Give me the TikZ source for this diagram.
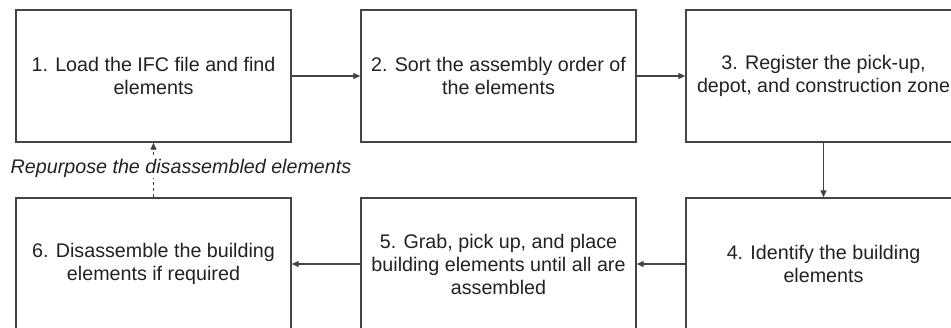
\documentclass[tikz,border=0pt]{standalone}
\usepackage{fontspec}
\setmainfont{Liberation Sans}
\usetikzlibrary{arrows.meta}
\definecolor{linec}{HTML}{444444}
\definecolor{textc}{HTML}{222222}
\begin{document}
\begin{tikzpicture}[x=1bp,y=-1bp,
  stepbox/.style={draw=linec,line width=1.4bp,minimum width=275bp,minimum height=132bp,
    align=center,text=textc,font=\fontsize{19.7bp}{23bp}\selectfont,inner sep=0pt},
  conn/.style={draw=linec,line width=1.1bp,-{Triangle[length=7bp,width=6bp]}}]
\useasboundingbox (0,0) rectangle (951,327);
\clip (0,0) rectangle (951,327);
\fill[white] (0,0) rectangle (951,327);
\node[stepbox] (b1) at (153.5,76) {1. Load the IFC file and find\\elements};
\node[stepbox] (b2) at (498.5,76) {2. Sort the assembly order of\\the elements};
\node[stepbox] (b3) at (823.5,76) {3. Register the pick-up,\\depot, and construction zone};
\node[stepbox] (b4) at (823.5,264) {4. Identify the building\\elements};
\node[stepbox] (b5) at (498.5,264) {5. Grab, pick up, and place\\building elements until all are\\assembled};
\node[stepbox] (b6) at (153.5,264) {6. Disassemble the building\\elements if required};
\draw[conn] (b1) -- (b2);
\draw[conn] (b2) -- (b3);
\draw[conn] (b3) -- (b4);
\draw[conn] (b4) -- (b5);
\draw[conn] (b5) -- (b6);
\draw[conn,dashed] (b6.north) -- (b1.south);
\node[fill=white,inner sep=1bp,text=textc,font=\fontsize{19.7bp}{23bp}\selectfont\itshape] (lab) at (181,168) {Repurpose the disassembled elements};
\end{tikzpicture}
\end{document}
